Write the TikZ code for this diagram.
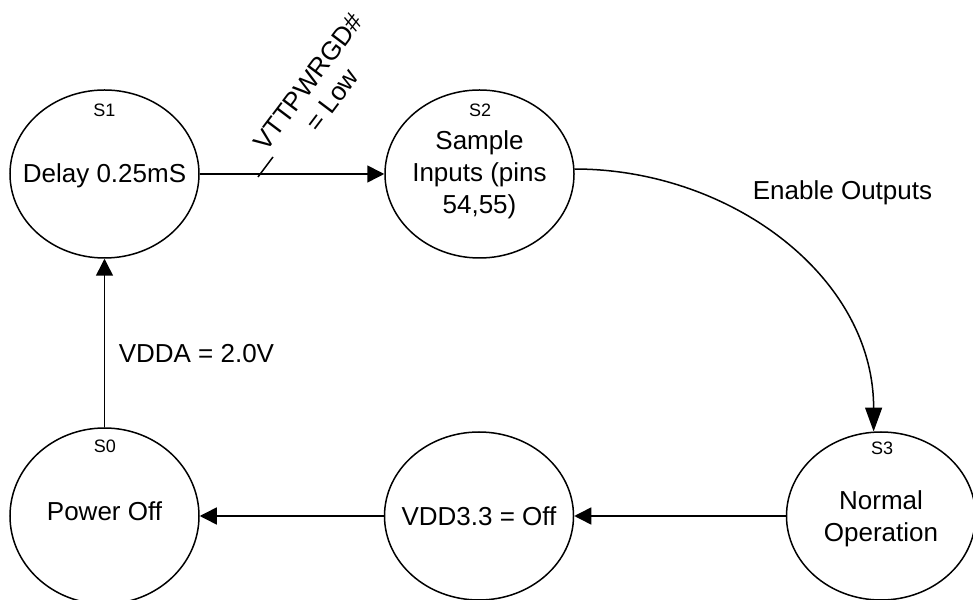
\documentclass[tikz,border=0pt]{standalone}
\usepackage{fontspec}
\setmainfont{Liberation Sans}
\usetikzlibrary{shapes.geometric, arrows.meta}
\begin{document}
\begin{tikzpicture}[
        x=1pt, y=1pt,
        state/.style={ellipse, draw, line width=1.5pt, minimum width=189pt, minimum height=168pt, inner sep=0pt},
        txt/.style={font=\fontsize{26}{32}\selectfont, align=center, inner sep=0pt},
        tag/.style={font=\fontsize{18}{21}\selectfont, anchor=base, inner sep=0pt},
        arrow/.style={-{Triangle[length=17pt, width=17pt]}, line width=1.5pt}
    ]
    \useasboundingbox (0,0) rectangle (973,599);
    % States
    \node[state] (s1) at (104.5,425) {};
    \node[state] (s2) at (479.5,425) {};
    \node[state] (s3) at (881,83) {};
    \node[state] (vdd) at (479,83) {};
    \node[state, minimum height=176pt] (s0) at (104.5,83) {};
    % State names
    \node[tag] (s1tag) at (104.5,482) {S1};
    \node[tag] (s2tag) at (480,482) {S2};
    \node[tag] (s3tag) at (882,144) {S3};
    \node[tag] (s0tag) at (105,146) {S0};
    % State texts
    \node[txt, yshift=-2pt] (s1txt) at (s1) {Delay 0.25mS};
    \node[txt, yshift=-1pt] (s2txt) at (s2) {Sample\\Inputs (pins\\54,55)};
    \node[txt, yshift=-3pt] (s3txt) at (s3) {Normal\\Operation};
    \node[txt] (vddtxt) at (vdd) {VDD3.3 = Off};
    \node[txt, yshift=5pt] (s0txt) at (s0) {Power Off};
    % Edges
    \draw[arrow] (s1.east) -- (s2.west);
    \coordinate (leadA) at (258,422);
    \coordinate (leadB) at (273,442);
    \draw[line width=1.5pt] (leadA) -- (leadB);
    \node[txt, font=\fontsize{26}{30}\selectfont, rotate=53] (vttlbl) at (320,508) {VTTPWRGD\#\\= Low};
    \draw[arrow, -{Triangle[length=24pt, width=17pt]}] (s2.3) to[out=0, in=90] (s3.95);
    \node[txt] (enout) at (842.5,406) {Enable Outputs};
    \draw[arrow] (s3.west) -- (vdd.east);
    \draw[arrow] (vdd.west) -- (s0.east);
    \draw[arrow] (s0.north) -- node[txt, pos=0.44, anchor=west, xshift=13.5pt] (vdda) {VDDA = 2.0V} (s1.south);
\end{tikzpicture}
\end{document}
